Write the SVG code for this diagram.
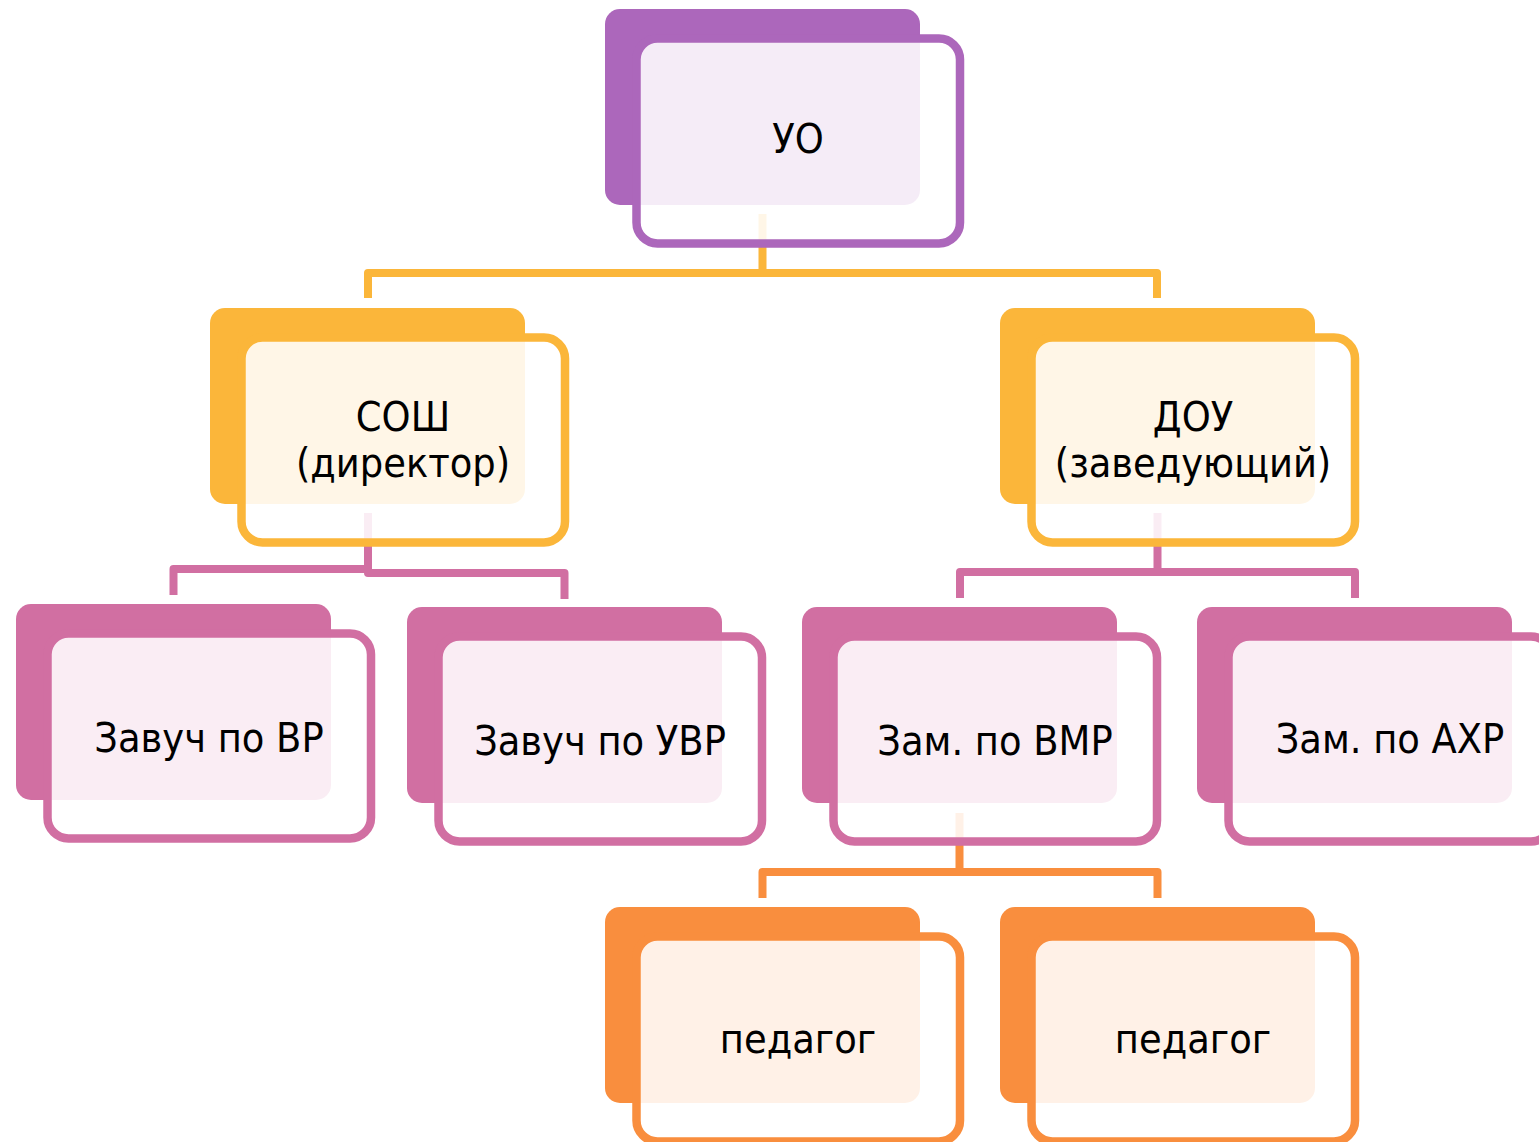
<svg xmlns="http://www.w3.org/2000/svg" width="1539" height="1142" viewBox="0 0 1539 1142">
<style>
  .back { stroke: none; }
  .front { fill: #ffffff; fill-opacity: 0.88; stroke-width: 8.5; }
  .purple .back { fill: #AC67BB; } .purple .front { stroke: #AC67BB; }
  .yellow .back { fill: #FBB63A; } .yellow .front { stroke: #FBB63A; }
  .pink .back { fill: #D16FA2; } .pink .front { stroke: #D16FA2; }
  .orange .back { fill: #F98E3E; } .orange .front { stroke: #F98E3E; }
  .lbl { font-family: "DejaVu Sans Condensed", "DejaVu Sans", sans-serif; font-size: 41px; fill: #000; text-anchor: middle; }
  .conn { fill: none; stroke-width: 8; stroke-linejoin: round; }
</style>
<g id="connectors">
  <path class="conn" stroke="#FBB63A" d="M762.5,214 V273 M368,298 V273 H1157 V298"/>
  <path class="conn" stroke="#D16FA2" d="M368,513 V569 H173.5 V595 M368,569 V573 H564.5 V599"/>
  <path class="conn" stroke="#D16FA2" d="M1157.5,513 V572 M960,598 V572 H1355 V598"/>
  <path class="conn" stroke="#F98E3E" d="M959.5,813 V872 M762.5,898 V872 H1157.5 V898"/>
</g>
<g id="node-uo" class="purple">
  <rect class="back" x="605" y="9" width="315" height="196" rx="15"/>
  <rect class="front" x="636.5" y="38.5" width="323.5" height="205" rx="21"/>
  <text class="lbl" x="798" y="153">УО</text>
</g>
<g id="node-sosh" class="yellow">
  <rect class="back" x="210" y="308" width="315" height="196" rx="15"/>
  <rect class="front" x="241.5" y="337.5" width="323.5" height="205" rx="21"/>
  <text class="lbl" x="403" y="431">СОШ</text>
  <text class="lbl" x="403" y="477">(директор)</text>
</g>
<g id="node-dou" class="yellow">
  <rect class="back" x="1000" y="308" width="315" height="196" rx="15"/>
  <rect class="front" x="1031.5" y="337.5" width="323.5" height="205" rx="21"/>
  <text class="lbl" x="1193" y="431">ДОУ</text>
  <text class="lbl" x="1193" y="477">(заведующий)</text>
</g>
<g id="node-vr" class="pink">
  <rect class="back" x="16" y="604" width="315" height="196" rx="15"/>
  <rect class="front" x="47.5" y="633.5" width="323.5" height="205" rx="21"/>
  <text class="lbl" x="209" y="752">Завуч по ВР</text>
</g>
<g id="node-uvr" class="pink">
  <rect class="back" x="407" y="607" width="315" height="196" rx="15"/>
  <rect class="front" x="438.5" y="636.5" width="323.5" height="205" rx="21"/>
  <text class="lbl" x="600" y="755">Завуч по УВР</text>
</g>
<g id="node-vmr" class="pink">
  <rect class="back" x="802" y="607" width="315" height="196" rx="15"/>
  <rect class="front" x="833.5" y="636.5" width="323.5" height="205" rx="21"/>
  <text class="lbl" x="995" y="755">Зам. по ВМР</text>
</g>
<g id="node-ahr" class="pink">
  <rect class="back" x="1197" y="607" width="315" height="196" rx="15"/>
  <rect class="front" x="1228.5" y="636.5" width="323.5" height="205" rx="21"/>
  <text class="lbl" x="1390" y="753">Зам. по АХР</text>
</g>
<g id="node-ped1" class="orange">
  <rect class="back" x="605" y="907" width="315" height="196" rx="15"/>
  <rect class="front" x="636.5" y="936.5" width="323.5" height="205" rx="21"/>
  <text class="lbl" x="798" y="1053">педагог</text>
</g>
<g id="node-ped2" class="orange">
  <rect class="back" x="1000" y="907" width="315" height="196" rx="15"/>
  <rect class="front" x="1031.5" y="936.5" width="323.5" height="205" rx="21"/>
  <text class="lbl" x="1193" y="1053">педагог</text>
</g>
</svg>
